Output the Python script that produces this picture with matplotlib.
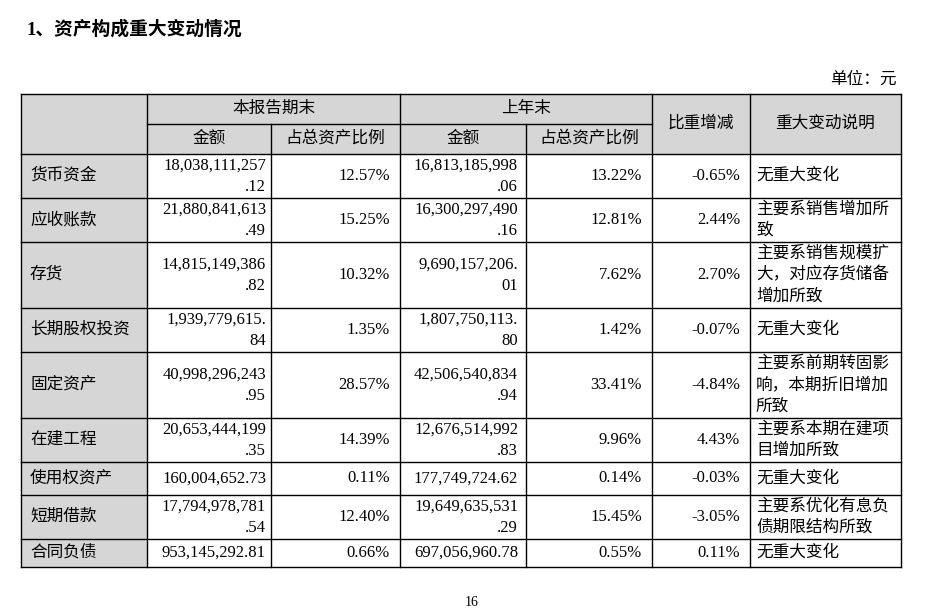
import matplotlib.pyplot as plt
from matplotlib.patches import Rectangle

FONT = ['Liberation Serif', 'Noto Sans CJK SC']
GRAY = '#d6d6d6'

items = ['货币资金', '应收账款', '存货', '长期股权投资', '固定资产', '在建工程',
         '使用权资产', '短期借款', '合同负债']
amount_now = [['18,038,111,257', '.12'], ['21,880,841,613', '.49'], ['14,815,149,386', '.82'],
              ['1,939,779,615.', '84'], ['40,998,296,243', '.95'], ['20,653,444,199', '.35'],
              ['160,004,652.73'], ['17,794,978,781', '.54'], ['953,145,292.81']]
ratio_now = ['12.57%', '15.25%', '10.32%', '1.35%', '28.57%', '14.39%', '0.11%', '12.40%', '0.66%']
amount_prev = [['16,813,185,998', '.06'], ['16,300,297,490', '.16'], ['9,690,157,206.', '01'],
               ['1,807,750,113.', '80'], ['42,506,540,834', '.94'], ['12,676,514,992', '.83'],
               ['177,749,724.62'], ['19,649,635,531', '.29'], ['697,056,960.78']]
ratio_prev = ['13.22%', '12.81%', '7.62%', '1.42%', '33.41%', '9.96%', '0.14%', '15.45%', '0.55%']
change = ['-0.65%', '2.44%', '2.70%', '-0.07%', '-4.84%', '4.43%', '-0.03%', '-3.05%', '0.11%']
notes = [['无重大变化'], ['主要系销售增加所', '致'], ['主要系销售规模扩', '大，对应存货储备', '增加所致'],
         ['无重大变化'], ['主要系前期转固影', '响，本期折旧增加', '所致'], ['主要系本期在建项', '目增加所致'],
         ['无重大变化'], ['主要系优化有息负', '债期限结构所致'], ['无重大变化']]

cols = [21, 147, 271, 400, 526, 652, 750, 901]
rows = [154, 198, 242, 308, 352, 418, 462, 495, 539, 567]
top, mid = 94, 124

fig = plt.figure(figsize=(9.34, 6.10), dpi=100)
ax = fig.add_axes([0, 0, 1, 1])
ax.set_xlim(0, 934)
ax.set_ylim(610, 0)
ax.axis('off')

fs = 12
ax.text(27, 29, '1、资产构成重大变动情况', fontsize=13.5, fontweight='bold', family=FONT, va='center')
ax.text(897, 80, '单位：元', fontsize=fs, family=FONT, ha='right', va='center')

# header shading and first column
ax.add_patch(Rectangle((cols[0], top), cols[-1] - cols[0], rows[0] - top, color=GRAY, lw=0))
ax.add_patch(Rectangle((cols[0], rows[0]), cols[1] - cols[0], rows[-1] - rows[0], color=GRAY, lw=0))

lw = 1.0
ax.plot([cols[0], cols[-1]], [top, top], color='k', lw=lw)
ax.plot([cols[1], cols[5]], [mid, mid], color='k', lw=lw)
for y in rows:
    ax.plot([cols[0], cols[-1]], [y, y], color='k', lw=lw)
for i, x in enumerate(cols):
    y0 = mid if i in (2, 4) else top
    ax.plot([x, x], [y0, rows[-1]], color='k', lw=lw)

def cx(a, b):
    return (cols[a] + cols[b]) / 2

ax.text(cx(1, 3), 109, '本报告期末', fontsize=fs, family=FONT, ha='center', va='center')
ax.text(cx(3, 5), 109, '上年末', fontsize=fs, family=FONT, ha='center', va='center')
for a, label in [(1, '金额'), (2, '占总资产比例'), (3, '金额'), (4, '占总资产比例')]:
    ax.text(cx(a, a + 1), 139, label, fontsize=fs, family=FONT, ha='center', va='center')
ax.text(cx(5, 6), 124, '比重增减', fontsize=fs, family=FONT, ha='center', va='center')
ax.text(cx(6, 7), 124, '重大变动说明', fontsize=fs, family=FONT, ha='center', va='center')

def lines(x, yc, parts, ha):
    n = len(parts)
    for k, s in enumerate(parts):
        y = yc + (k - (n - 1) / 2) * 21.5
        ax.text(x, y, s, fontsize=fs, family=FONT, ha=ha, va='center')

for i in range(len(items)):
    yc = (rows[i] + rows[i + 1]) / 2
    ax.text(cols[0] + 9, yc, items[i], fontsize=fs, family=FONT, va='center')
    lines(cols[2] - 5, yc, amount_now[i], 'right')
    ax.text(cols[3] - 10, yc, ratio_now[i], fontsize=fs, family=FONT, ha='right', va='center')
    lines(cols[4] - 8, yc, amount_prev[i], 'right')
    ax.text(cols[5] - 10, yc, ratio_prev[i], fontsize=fs, family=FONT, ha='right', va='center')
    ax.text(cols[6] - 10, yc, change[i], fontsize=fs, family=FONT, ha='right', va='center')
    lines(cols[6] + 6, yc, notes[i], 'left')

ax.text(472, 603, '16', fontsize=10, family=FONT, ha='center', va='center')

fig.savefig('out.png', dpi=100)
